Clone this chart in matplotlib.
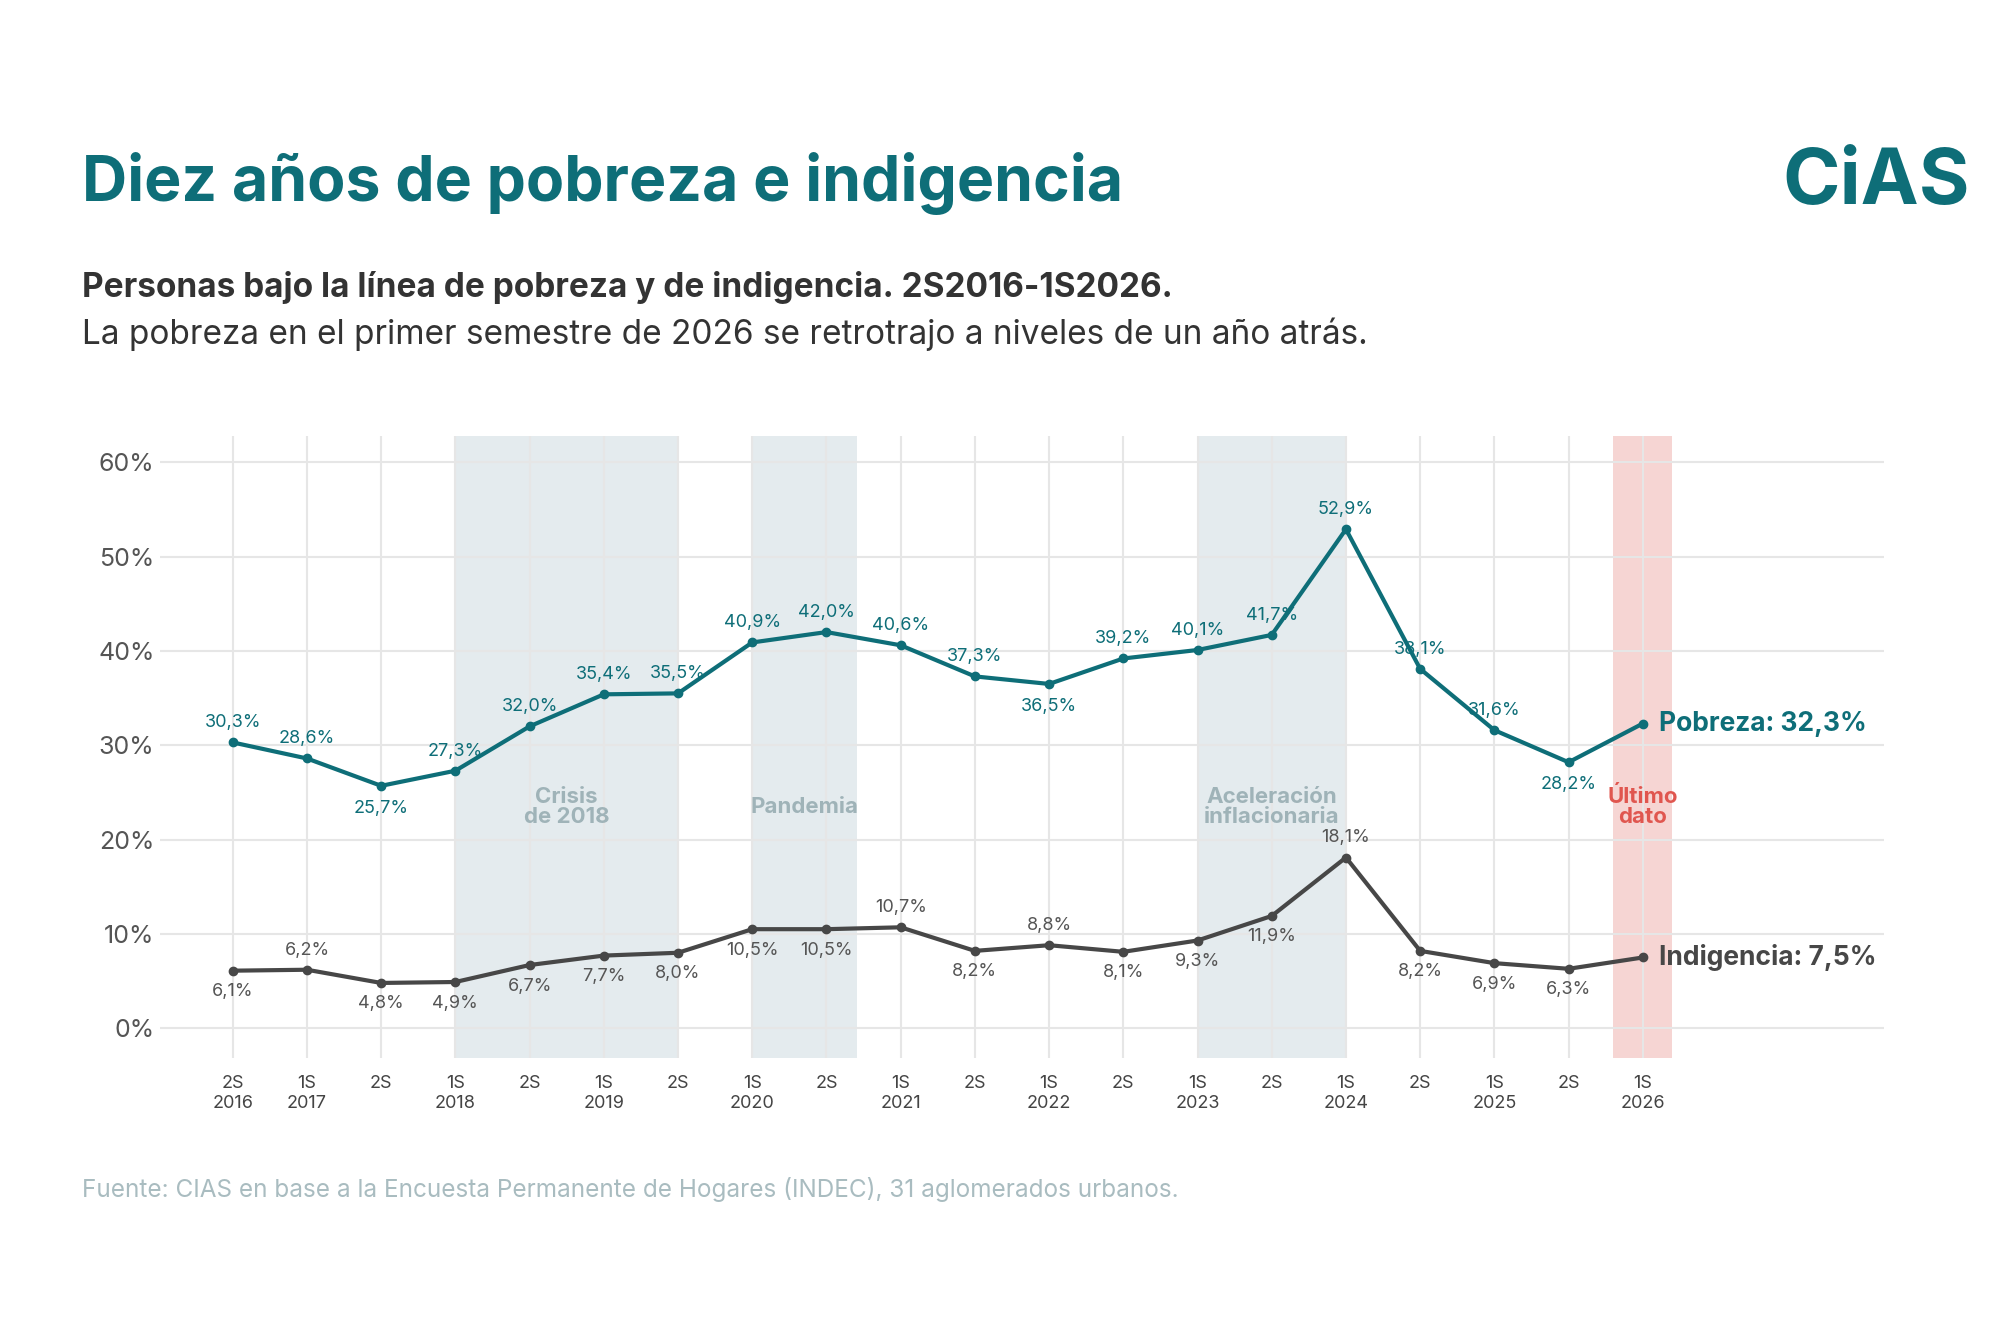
import matplotlib
matplotlib.use("Agg")
import matplotlib.pyplot as plt

periods = ["2S\n2016","1S\n2017","2S","1S\n2018","2S","1S\n2019","2S","1S\n2020","2S","1S\n2021",
           "2S","1S\n2022","2S","1S\n2023","2S","1S\n2024","2S","1S\n2025","2S","1S\n2026"]
pobreza = [30.3,28.6,25.7,27.3,32.0,35.4,35.5,40.9,42.0,40.6,37.3,36.5,39.2,40.1,41.7,52.9,38.1,31.6,28.2,32.3]
indigencia = [6.1,6.2,4.8,4.9,6.7,7.7,8.0,10.5,10.5,10.7,8.2,8.8,8.1,9.3,11.9,18.1,8.2,6.9,6.3,7.5]
pob_above = [1,1,0,1,1,1,1,1,1,1,1,0,1,1,1,1,1,1,0,None]
ind_above = [0,1,0,0,0,0,0,0,0,1,0,1,0,0,0,1,0,0,0,None]
yticks = [0,10,20,30,40,50,60]

TEAL = "#0e6e78"; DARK = "#474747"; FONT = ["Inter","DejaVu Sans"]
plt.rcParams['font.family'] = FONT

fig = plt.figure(figsize=(20,13.33), dpi=100)
ax = fig.add_axes([0.08,0.206,0.862,0.467])
x = list(range(len(periods)))
ax.set_xlim(-0.98,22.25); ax.set_ylim(-3.2,62.8)

for a,b in [(3,6),(7,8.41),(13,15)]:
    ax.axvspan(a,b,color="#e4ebee",zorder=0,lw=0)
ax.axvspan(18.6,19.4,color="#f6d5d3",zorder=0,lw=0)
for xi in x:
    ax.axvline(xi,color="#e6e6e6",lw=1.5,zorder=0.5)
for yv in yticks:
    ax.axhline(yv,color="#e6e6e6",lw=1.5,zorder=0.5)
for s in ax.spines.values(): s.set_visible(False)
ax.tick_params(length=0)
ax.set_yticks(yticks); ax.set_yticklabels([f"{v}%" for v in yticks],fontsize=18,color="#555555")
ax.set_xticks(x); ax.set_xticklabels(periods,fontsize=13,color="#444444")
ax.tick_params(axis='x',pad=12); ax.tick_params(axis='y',pad=4)

ax.plot(x,pobreza,color=TEAL,lw=3,marker="o",ms=6,zorder=3)
ax.plot(x,indigencia,color=DARK,lw=3,marker="o",ms=6,zorder=3)
fmt = lambda v: f"{v:.1f}".replace(".",",")+"%"
for xi,v,a in zip(x,pobreza,pob_above):
    if a is None: continue
    ax.annotate(fmt(v),(xi,v),xytext=(0,8 if a else -10),textcoords="offset points",
                ha="center",va="bottom" if a else "top",fontsize=13,color=TEAL)
for xi,v,a in zip(x,indigencia,ind_above):
    if a is None: continue
    ax.annotate(fmt(v),(xi,v),xytext=(0,8 if a else -9),textcoords="offset points",
                ha="center",va="bottom" if a else "top",fontsize=13,color="#555555")
ax.annotate(f"Pobreza: {fmt(pobreza[-1])}",(19,pobreza[-1]),xytext=(12,0),textcoords="offset points",
            va="center",fontsize=19,fontweight="bold",color=TEAL)
ax.annotate(f"Indigencia: {fmt(indigencia[-1])}",(19,indigencia[-1]),xytext=(12,0),textcoords="offset points",
            va="center",fontsize=19,fontweight="bold",color=DARK)
for xc,txt,c in [(4.5,"Crisis\nde 2018","#9fb3b8"),(7.7,"Pandemia","#9fb3b8"),
                 (14,"Aceleración\ninflacionaria","#9fb3b8"),(19,"Último\ndato","#e0564f")]:
    ax.text(xc,23.5,txt,ha="center",va="center",fontsize=16,fontweight="bold",color=c,linespacing=1.0)

fig.text(0.041,0.862,"Diez años de pobreza e indigencia",fontsize=45,fontweight="bold",color=TEAL,va="center")
fig.text(0.985,0.862,"CiAS",fontsize=56,fontweight="bold",color=TEAL,va="center",ha="right")
fig.text(0.041,0.784,"Personas bajo la línea de pobreza y de indigencia. 2S2016-1S2026.",fontsize=24,
         fontweight="bold",color="#333333",va="center")
fig.text(0.041,0.749,"La pobreza en el primer semestre de 2026 se retrotrajo a niveles de un año atrás.",
         fontsize=24,color="#333333",va="center")
fig.text(0.041,0.108,"Fuente: CIAS en base a la Encuesta Permanente de Hogares (INDEC), 31 aglomerados urbanos.",
         fontsize=17.5,color="#a9bcc0",va="center")
fig.savefig("out.png",dpi=100,facecolor="white")
